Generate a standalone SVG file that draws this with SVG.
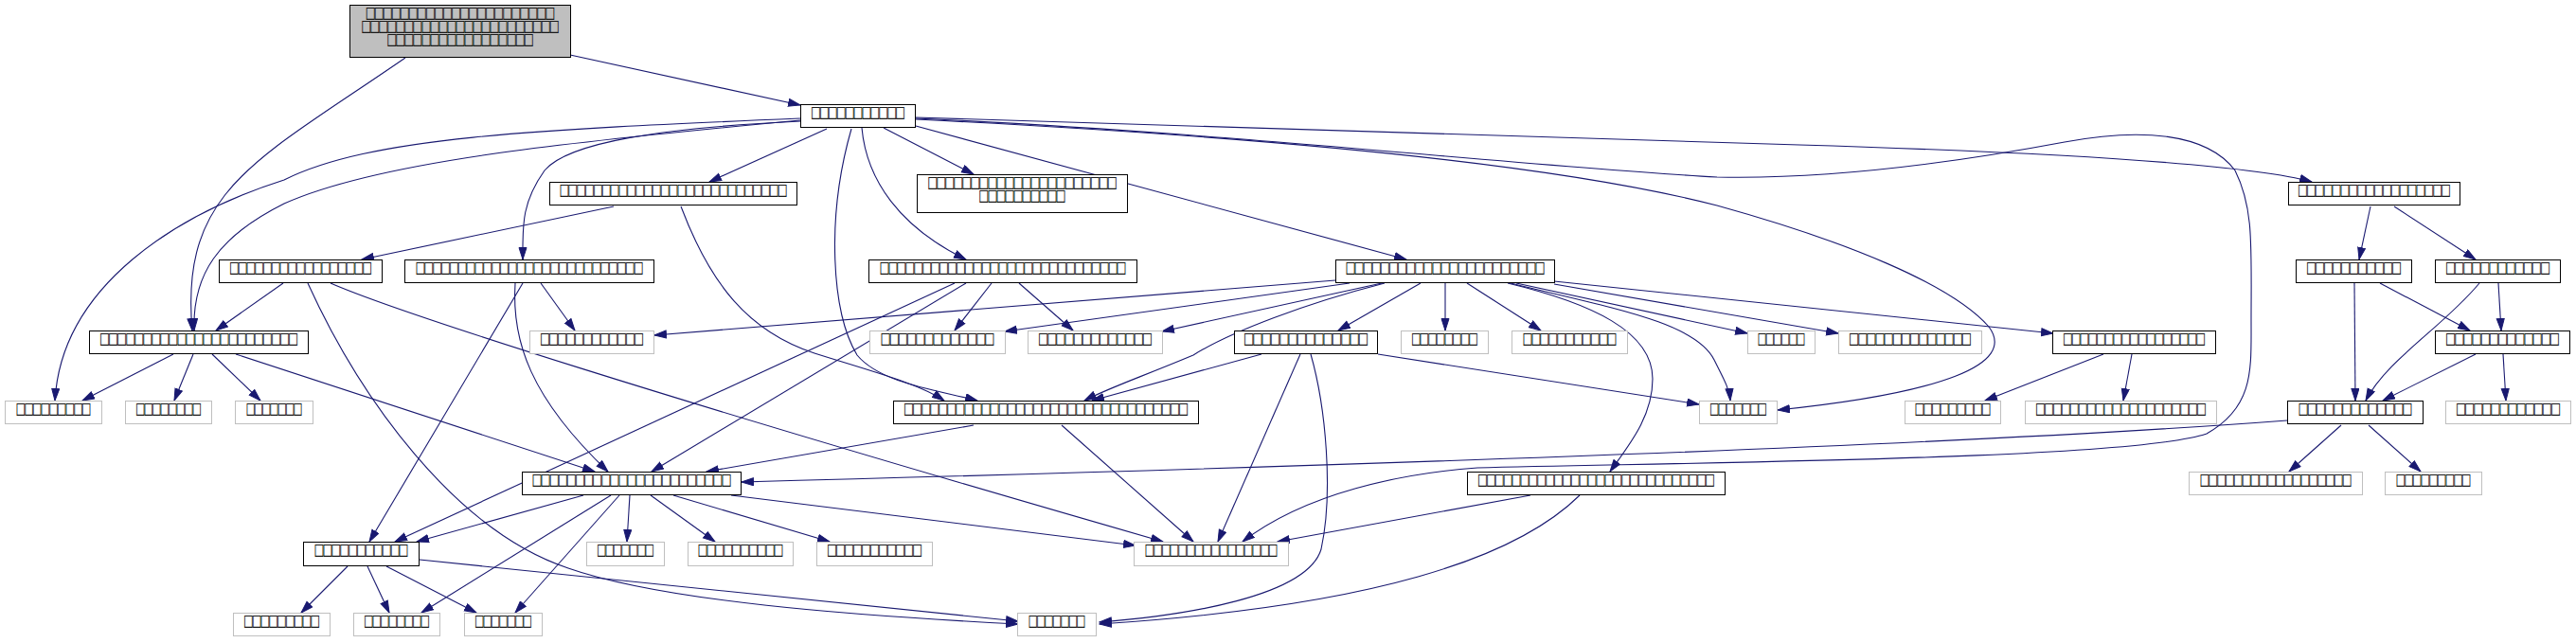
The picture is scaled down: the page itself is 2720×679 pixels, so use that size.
<svg xmlns="http://www.w3.org/2000/svg" width="2720" height="679" viewBox="0 0 2720 679">
<defs>
<style>
.n rect{fill:#ffffff;stroke:#000000;stroke-width:1}
.l rect{fill:#ffffff;stroke:#bfbfbf;stroke-width:1}
.r rect{fill:#bfbfbf;stroke:#000000;stroke-width:1}
text{font-family:"DejaVu Sans Mono","Liberation Mono",monospace;font-size:15px;fill:#1a1a1a;text-anchor:middle}
.e path{fill:none;stroke:#191970;stroke-width:1.1;marker-end:url(#ah)}
</style>
<marker id="ah" markerUnits="userSpaceOnUse" markerWidth="14" markerHeight="10" refX="13" refY="4.5" orient="auto">
<path d="M0.5,0.5 L13,4.5 L0.5,8.5 z" fill="#191970" stroke="#191970" stroke-width="1"/>
</marker>
</defs>
<rect width="2720" height="679" fill="#ffffff"/>
<g id="edges" class="e">
<path d="M602,58 L845,111"/>
<path d="M428,61 C270,170 190,200 203,349"/>
<path d="M845,125 C560,137 390,145 300,190 C190,225 65,300 58,423"/>
<path d="M845,127 C600,150 400,170 300,215 C230,250 203,290 205,349"/>
<path d="M845,128 C700,135 600,150 575,180 C550,215 552,240 552,274"/>
<path d="M873,136 L749,192"/>
<path d="M899,136 C872,230 878,330 905,375 C930,405 990,412 1032,423"/>
<path d="M719,218 C750,300 790,350 860,373 C920,392 970,405 997,423"/>
<path d="M910,135 C915,190 950,240 1020,274"/>
<path d="M933,135 L1028,184"/>
<path d="M967,133 L1485,274"/>
<path d="M967,124 L1900,153 C2200,162 2380,175 2441,192"/>
<path d="M967,125 C1300,140 1600,175 1813,187 C1950,190 2100,165 2180,150 C2260,135 2330,140 2360,180 C2380,220 2377,260 2377,340 C2377,390 2380,430 2330,458 C2250,485 1800,488 1560,494 C1480,500 1380,520 1312,572"/>
<path d="M967,126 C1350,145 1650,175 1813,217 C1950,255 2060,300 2100,345 C2130,385 2050,415 1877,433"/>
<path d="M1410,296 L691,354"/>
<path d="M1425,299 L1061,350"/>
<path d="M1459,299 L1227,350"/>
<path d="M1462,299 C1380,320 1300,350 1260,375 C1200,400 1170,410 1145,423"/>
<path d="M1500,299 L1413,349"/>
<path d="M1526,299 L1526,349"/>
<path d="M1549,299 L1627,349"/>
<path d="M1592,299 C1680,320 1745,350 1745,400 C1745,440 1720,470 1700,498"/>
<path d="M1595,299 C1700,325 1790,340 1810,380 C1820,400 1826,410 1827,423"/>
<path d="M1601,299 L1845,352"/>
<path d="M1641,300 L1941,352"/>
<path d="M1641,297 L2168,352"/>
<path d="M1008,299 L417,572"/>
<path d="M1020,299 L688,498"/>
<path d="M1047,299 L1008,349"/>
<path d="M1076,299 L1133,349"/>
<path d="M648,218 L382,274"/>
<path d="M299,299 L228,349"/>
<path d="M325,299 C380,420 480,560 600,600 C700,635 900,650 1075,659"/>
<path d="M349,299 C420,330 700,420 1228,572"/>
<path d="M552,299 L390,572"/>
<path d="M544,299 C540,360 560,420 642,498"/>
<path d="M571,299 L607,349"/>
<path d="M183,374 L87,423"/>
<path d="M204,374 L184,423"/>
<path d="M224,374 L275,423"/>
<path d="M249,374 L628,498"/>
<path d="M616,523 L440,572"/>
<path d="M645,523 L445,647"/>
<path d="M654,523 L544,647"/>
<path d="M665,523 L662,572"/>
<path d="M687,523 L755,572"/>
<path d="M711,523 L876,572"/>
<path d="M772,523 L1199,576"/>
<path d="M367,598 L318,647"/>
<path d="M388,598 L411,647"/>
<path d="M408,598 L503,647"/>
<path d="M443,591 L1075,656"/>
<path d="M1028,449 L746,498"/>
<path d="M1121,449 L1260,572"/>
<path d="M2415,444 C2100,468 1500,490 783,509"/>
<path d="M1332,374 L1153,423"/>
<path d="M1373,374 L1286,572"/>
<path d="M1384,374 C1400,430 1408,520 1395,580 C1380,630 1250,650 1161,657"/>
<path d="M1455,374 L1794,427"/>
<path d="M1616,523 L1349,572"/>
<path d="M1668,523 C1600,590 1450,640 1161,659"/>
<path d="M2472,449 L2417,498"/>
<path d="M2501,449 L2556,498"/>
<path d="M2614,374 L2516,423"/>
<path d="M2643,374 L2646,423"/>
<path d="M2486,299 L2487,423"/>
<path d="M2513,299 L2608,349"/>
<path d="M2638,299 L2641,349"/>
<path d="M2618,299 C2580,345 2520,380 2498,423"/>
<path d="M2503,218 L2491,274"/>
<path d="M2528,218 L2614,274"/>
<path d="M2221,374 L2096,423"/>
<path d="M2251,374 L2242,423"/>
</g>
<g id="nA" class="r"><rect x="369.5" y="5.5" width="233" height="55"/><text transform="translate(486,19.5) scale(1,1.45)"><tspan x="0" y="0">□□□□□□□□□□□□□□□□□□□□□□</tspan><tspan x="0" y="10">□□□□□□□□□□□□□□□□□□□□□□□</tspan><tspan x="0" y="20">□□□□□□□□□□□□□□□□□</tspan></text></g>
<g id="nB" class="n"><rect x="845.5" y="110.5" width="121" height="24"/><text transform="translate(906,124.5) scale(1,1.45)" textLength="98" lengthAdjust="spacingAndGlyphs">□□□□□□□□□□□</text></g>
<g id="nC" class="n"><rect x="580.5" y="192.5" width="261" height="24"/><text transform="translate(711,206.5) scale(1,1.45)" textLength="239" lengthAdjust="spacingAndGlyphs">□□□□□□□□□□□□□□□□□□□□□□□□□□□</text></g>
<g id="nF" class="n"><rect x="968.5" y="184.5" width="222" height="40"/><text transform="translate(1079.5,198.5) scale(1,1.45)"><tspan x="0" y="0">□□□□□□□□□□□□□□□□□□□□□□</tspan><tspan x="0" y="10">□□□□□□□□□□</tspan></text></g>
<g id="nI" class="n"><rect x="2416.5" y="192.5" width="181" height="24"/><text transform="translate(2507,206.5) scale(1,1.45)" textLength="160" lengthAdjust="spacingAndGlyphs">□□□□□□□□□□□□□□□□□□</text></g>
<g id="nD" class="n"><rect x="231.5" y="274.5" width="172" height="24"/><text transform="translate(317.5,288.5) scale(1,1.45)" textLength="149" lengthAdjust="spacingAndGlyphs">□□□□□□□□□□□□□□□□□</text></g>
<g id="nE" class="n"><rect x="427.5" y="274.5" width="263" height="24"/><text transform="translate(559,288.5) scale(1,1.45)" textLength="239" lengthAdjust="spacingAndGlyphs">□□□□□□□□□□□□□□□□□□□□□□□□□□□</text></g>
<g id="nG" class="n"><rect x="917.5" y="274.5" width="283" height="24"/><text transform="translate(1059,288.5) scale(1,1.45)" textLength="259" lengthAdjust="spacingAndGlyphs">□□□□□□□□□□□□□□□□□□□□□□□□□□□□□</text></g>
<g id="nH" class="n"><rect x="1410.5" y="274.5" width="231" height="24"/><text transform="translate(1526,288.5) scale(1,1.45)" textLength="209" lengthAdjust="spacingAndGlyphs">□□□□□□□□□□□□□□□□□□□□□□□</text></g>
<g id="nJ" class="n"><rect x="2424.5" y="274.5" width="122" height="24"/><text transform="translate(2485.5,288.5) scale(1,1.45)" textLength="99" lengthAdjust="spacingAndGlyphs">□□□□□□□□□□□</text></g>
<g id="nK" class="n"><rect x="2571.5" y="274.5" width="132" height="24"/><text transform="translate(2637.5,288.5) scale(1,1.45)" textLength="109" lengthAdjust="spacingAndGlyphs">□□□□□□□□□□□□</text></g>
<g id="nL" class="n"><rect x="94.5" y="349.5" width="231" height="24"/><text transform="translate(210,363.5) scale(1,1.45)" textLength="208" lengthAdjust="spacingAndGlyphs">□□□□□□□□□□□□□□□□□□□□□□□</text></g>
<g id="nP" class="l"><rect x="559.5" y="349.5" width="131" height="24"/><text transform="translate(625,363.5) scale(1,1.45)" textLength="108" lengthAdjust="spacingAndGlyphs">□□□□□□□□□□□□</text></g>
<g id="nY" class="l"><rect x="918.5" y="349.5" width="143" height="24"/><text transform="translate(990,363.5) scale(1,1.45)" textLength="119" lengthAdjust="spacingAndGlyphs">□□□□□□□□□□□□□</text></g>
<g id="nZ" class="l"><rect x="1085.5" y="349.5" width="142" height="24"/><text transform="translate(1156.5,363.5) scale(1,1.45)" textLength="119" lengthAdjust="spacingAndGlyphs">□□□□□□□□□□□□□</text></g>
<g id="nAA" class="n"><rect x="1303.5" y="349.5" width="151" height="24"/><text transform="translate(1379,363.5) scale(1,1.45)" textLength="130" lengthAdjust="spacingAndGlyphs">□□□□□□□□□□□□□□</text></g>
<g id="nAB" class="l"><rect x="1479.5" y="349.5" width="92" height="24"/><text transform="translate(1525.5,363.5) scale(1,1.45)" textLength="69" lengthAdjust="spacingAndGlyphs">□□□□□□□□</text></g>
<g id="nAC" class="l"><rect x="1596.5" y="349.5" width="122" height="24"/><text transform="translate(1657.5,363.5) scale(1,1.45)" textLength="98" lengthAdjust="spacingAndGlyphs">□□□□□□□□□□□</text></g>
<g id="nAI" class="l"><rect x="1845.5" y="349.5" width="71" height="24"/><text transform="translate(1881,363.5) scale(1,1.45)" textLength="49" lengthAdjust="spacingAndGlyphs">□□□□□□</text></g>
<g id="nAJ" class="l"><rect x="1941.5" y="349.5" width="151" height="24"/><text transform="translate(2017,363.5) scale(1,1.45)" textLength="128" lengthAdjust="spacingAndGlyphs">□□□□□□□□□□□□□□</text></g>
<g id="nAK" class="n"><rect x="2167.5" y="349.5" width="172" height="24"/><text transform="translate(2253.5,363.5) scale(1,1.45)" textLength="149" lengthAdjust="spacingAndGlyphs">□□□□□□□□□□□□□□□□□</text></g>
<g id="nAP" class="n"><rect x="2571.5" y="349.5" width="142" height="24"/><text transform="translate(2642.5,363.5) scale(1,1.45)" textLength="119" lengthAdjust="spacingAndGlyphs">□□□□□□□□□□□□□</text></g>
<g id="nM" class="l"><rect x="5.5" y="423.5" width="102" height="24"/><text transform="translate(56.5,437.5) scale(1,1.45)" textLength="78" lengthAdjust="spacingAndGlyphs">□□□□□□□□□</text></g>
<g id="nN" class="l"><rect x="132.5" y="423.5" width="91" height="24"/><text transform="translate(178,437.5) scale(1,1.45)" textLength="68" lengthAdjust="spacingAndGlyphs">□□□□□□□□</text></g>
<g id="nO" class="l"><rect x="248.5" y="423.5" width="82" height="24"/><text transform="translate(289.5,437.5) scale(1,1.45)" textLength="58" lengthAdjust="spacingAndGlyphs">□□□□□□□</text></g>
<g id="nAD" class="n"><rect x="943.5" y="423.5" width="322" height="24"/><text transform="translate(1104.5,437.5) scale(1,1.45)" textLength="299" lengthAdjust="spacingAndGlyphs">□□□□□□□□□□□□□□□□□□□□□□□□□□□□□□□□□</text></g>
<g id="nAH" class="l"><rect x="1794.5" y="423.5" width="82" height="24"/><text transform="translate(1835.5,437.5) scale(1,1.45)" textLength="59" lengthAdjust="spacingAndGlyphs">□□□□□□□</text></g>
<g id="nAL" class="l"><rect x="2011.5" y="423.5" width="101" height="24"/><text transform="translate(2062,437.5) scale(1,1.45)" textLength="79" lengthAdjust="spacingAndGlyphs">□□□□□□□□□</text></g>
<g id="nAM" class="l"><rect x="2138.5" y="423.5" width="202" height="24"/><text transform="translate(2239.5,437.5) scale(1,1.45)" textLength="179" lengthAdjust="spacingAndGlyphs">□□□□□□□□□□□□□□□□□□□□</text></g>
<g id="nAN" class="n"><rect x="2415.5" y="423.5" width="143" height="24"/><text transform="translate(2487,437.5) scale(1,1.45)" textLength="119" lengthAdjust="spacingAndGlyphs">□□□□□□□□□□□□□</text></g>
<g id="nAO" class="l"><rect x="2582.5" y="423.5" width="132" height="24"/><text transform="translate(2648.5,437.5) scale(1,1.45)" textLength="109" lengthAdjust="spacingAndGlyphs">□□□□□□□□□□□□</text></g>
<g id="nQ" class="n"><rect x="551.5" y="498.5" width="231" height="24"/><text transform="translate(667,512.5) scale(1,1.45)" textLength="209" lengthAdjust="spacingAndGlyphs">□□□□□□□□□□□□□□□□□□□□□□□</text></g>
<g id="nAG" class="n"><rect x="1549.5" y="498.5" width="272" height="24"/><text transform="translate(1685.5,512.5) scale(1,1.45)" textLength="249" lengthAdjust="spacingAndGlyphs">□□□□□□□□□□□□□□□□□□□□□□□□□□□□</text></g>
<g id="nAQ" class="l"><rect x="2311.5" y="498.5" width="183" height="24"/><text transform="translate(2403,512.5) scale(1,1.45)" textLength="159" lengthAdjust="spacingAndGlyphs">□□□□□□□□□□□□□□□□□□</text></g>
<g id="nAR" class="l"><rect x="2518.5" y="498.5" width="102" height="24"/><text transform="translate(2569.5,512.5) scale(1,1.45)" textLength="78" lengthAdjust="spacingAndGlyphs">□□□□□□□□□</text></g>
<g id="nR" class="n"><rect x="320.5" y="572.5" width="122" height="25"/><text transform="translate(381.5,587) scale(1,1.45)" textLength="98" lengthAdjust="spacingAndGlyphs">□□□□□□□□□□□</text></g>
<g id="nS" class="l"><rect x="619.5" y="572.5" width="82" height="25"/><text transform="translate(660.5,587) scale(1,1.45)" textLength="59" lengthAdjust="spacingAndGlyphs">□□□□□□□</text></g>
<g id="nT" class="l"><rect x="726.5" y="572.5" width="111" height="25"/><text transform="translate(782,587) scale(1,1.45)" textLength="89" lengthAdjust="spacingAndGlyphs">□□□□□□□□□□</text></g>
<g id="nU" class="l"><rect x="862.5" y="572.5" width="122" height="25"/><text transform="translate(923.5,587) scale(1,1.45)" textLength="99" lengthAdjust="spacingAndGlyphs">□□□□□□□□□□□</text></g>
<g id="nAE" class="l"><rect x="1197.5" y="572.5" width="163" height="25"/><text transform="translate(1279,587) scale(1,1.45)" textLength="139" lengthAdjust="spacingAndGlyphs">□□□□□□□□□□□□□□□□</text></g>
<g id="nV" class="l"><rect x="246.5" y="647.5" width="102" height="24"/><text transform="translate(297.5,661.5) scale(1,1.45)" textLength="79" lengthAdjust="spacingAndGlyphs">□□□□□□□□□</text></g>
<g id="nW" class="l"><rect x="373.5" y="647.5" width="91" height="24"/><text transform="translate(419,661.5) scale(1,1.45)" textLength="68" lengthAdjust="spacingAndGlyphs">□□□□□□□□</text></g>
<g id="nX" class="l"><rect x="490.5" y="647.5" width="82" height="24"/><text transform="translate(531.5,661.5) scale(1,1.45)" textLength="59" lengthAdjust="spacingAndGlyphs">□□□□□□□</text></g>
<g id="nAF" class="l"><rect x="1074.5" y="647.5" width="83" height="24"/><text transform="translate(1116,661.5) scale(1,1.45)" textLength="59" lengthAdjust="spacingAndGlyphs">□□□□□□□</text></g>
</svg>
